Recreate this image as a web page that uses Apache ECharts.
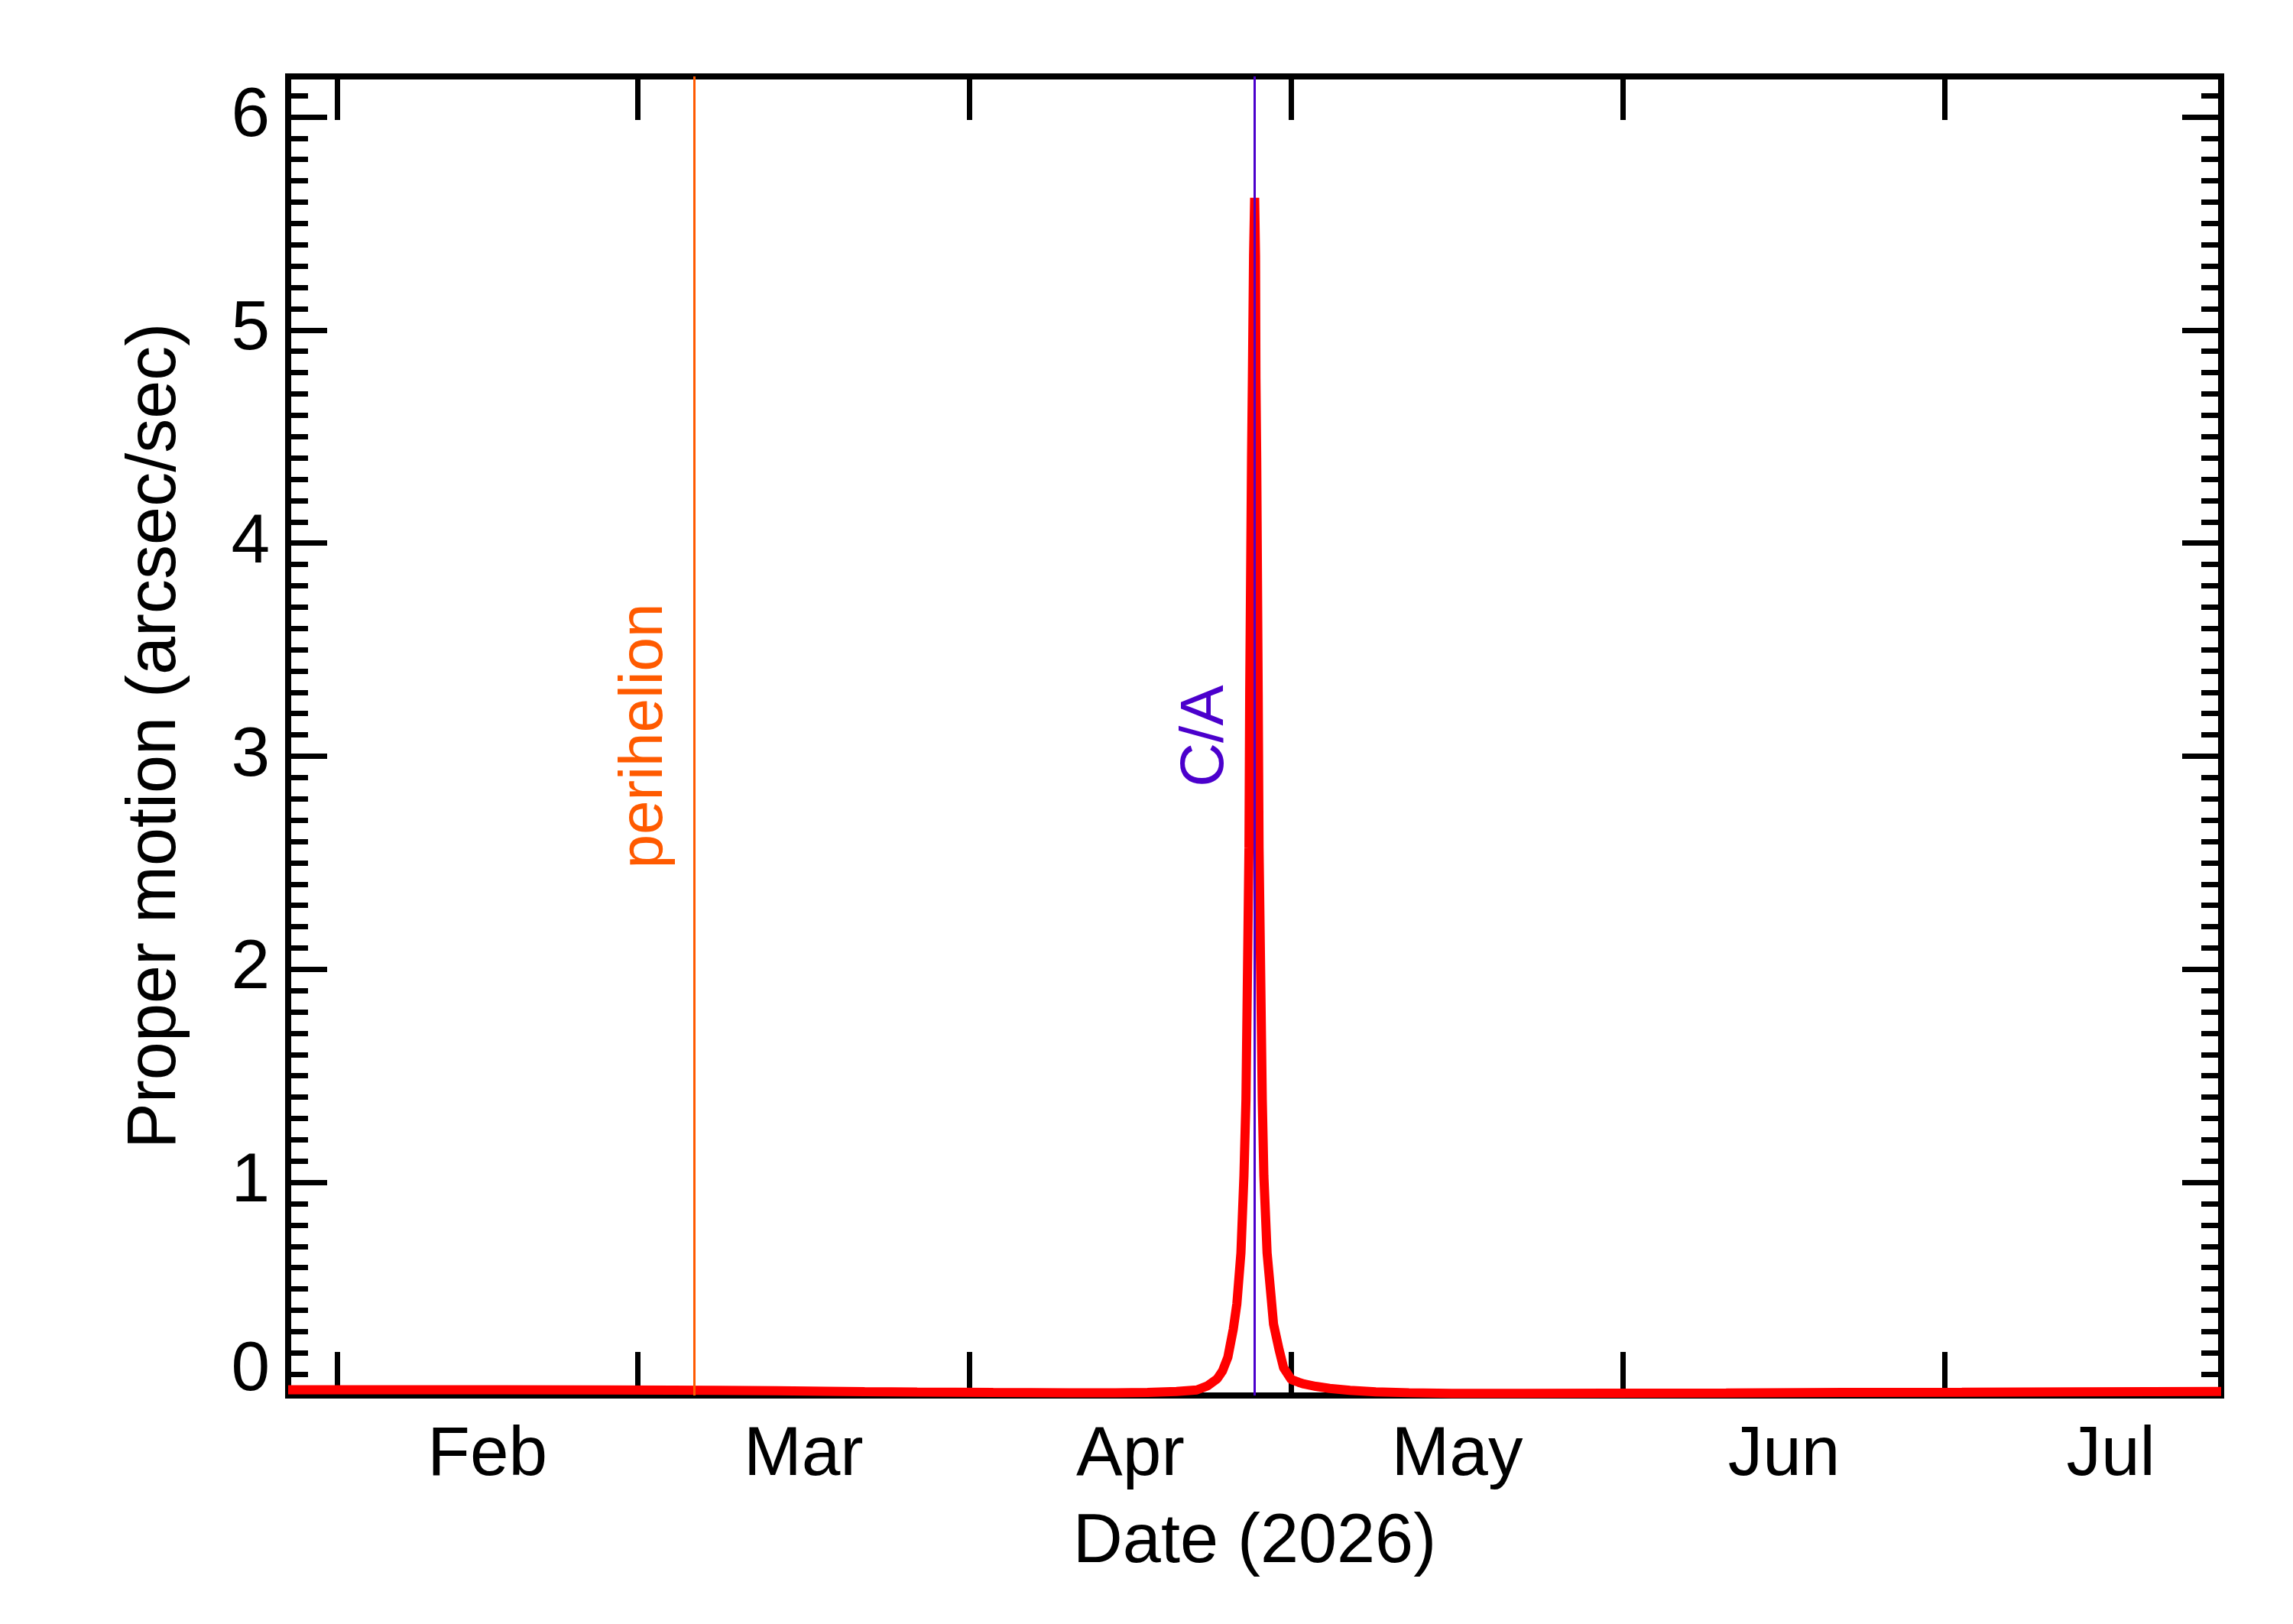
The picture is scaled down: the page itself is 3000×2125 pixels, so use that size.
<!DOCTYPE html>
<html>
<head>
<meta charset="utf-8">
<title>Proper motion 2026</title>
<script src="https://cdn.jsdelivr.net/npm/echarts@6/dist/echarts.min.js"></script>
<style>
html,body{margin:0;padding:0;background:#fff;}
#chart{width:3000px;height:2125px;}
</style>
</head>
<body>
<div id="chart"></div>
<script>
// x values are days since 2026-01-01 00:00 UT
var days = [26.4, 36.6, 46.6, 56.6, 62.2, 66.6, 72.0, 76.6, 80.2, 85.1, 92.2, 99.3, 103.6, 106.6,
	109.3, 111.2, 112.2, 113.1, 113.6, 114.1, 114.6, 114.94, 115.32, 115.6, 115.79, 116.07, 116.14,
	116.31, 116.39, 116.5, 116.6, 116.68, 116.72, 116.79, 116.93, 117.01, 117.31, 117.46, 117.76,
	118.15, 118.36, 118.88, 119.3, 120.02, 120.7, 121.2, 122.3, 123.6, 125.5, 127.9, 131.0, 135.0,
	141.6, 149.6, 160.6, 171.6, 182.6, 193.6, 206.8];
var motion = [0.027, 0.027, 0.027, 0.026, 0.025, 0.024, 0.022, 0.020, 0.018, 0.016, 0.014, 0.013, 0.013, 0.014,
	0.019, 0.026, 0.045, 0.078, 0.115, 0.18, 0.31, 0.43, 0.67, 1.03, 1.39, 2.57, 3.3,
	4.4, 4.77, 5.35, 5.62, 5.35, 4.77, 4.4, 3.3, 2.57, 1.39, 1.03, 0.67,
	0.454, 0.335, 0.215, 0.13, 0.075, 0.062, 0.054, 0.043, 0.033, 0.024, 0.017, 0.013, 0.010,
	0.010, 0.011, 0.012, 0.014, 0.015, 0.017, 0.019];

var monthNames = ['Feb', 'Mar', 'Apr', 'May', 'Jun', 'Jul'];
var monthStarts = [31, 59, 90, 120, 151, 181];
var monthMids = [45, 74.5, 105, 135.5, 166, 196.5];
var yMajor = [0, 1, 2, 3, 4, 5, 6];
var periDay = 64.3;
var caDay = 116.6;

var xMin = 26.4, xMax = 206.8;
var yMin = 0, yMax = 6.19;

var yMinor = [];
for (var i = 1; i <= 61; i++) {
	if (i % 10 != 0) yMinor.push(i / 10);
}

var seriesData = [];
for (var k = 0; k < days.length; k++) {
	seriesData.push([days[k], motion[k]]);
}

var font = 'Liberation Sans, Arial, Helvetica, sans-serif';

function yAxisDef(pos, ticks, len, withLabels) {
	var ax = {
		type: 'value',
		position: pos,
		min: yMin,
		max: yMax,
		axisLine: {show: false},
		splitLine: {show: false},
		axisTick: {
			show: true,
			inside: true,
			length: len,
			customValues: ticks,
			lineStyle: {color: '#000', width: 7}
		},
		axisLabel: {show: false}
	};
	if (withLabels) {
		ax.axisLabel = {
			show: true,
			customValues: yMajor,
			margin: 24,
			color: '#000',
			fontFamily: font,
			fontSize: 91,
			formatter: function (v) {
				// bottom label sits above the axis, as in the original
				return v == 0 ? '{z|0}' : String(v);
			},
			rich: {
				z: {fontFamily: font, fontSize: 91, color: '#000', padding: [0, 0, 65, 0]}
			}
		};
		ax.name = 'Proper motion (arcsec/sec)';
		ax.nameLocation = 'middle';
		ax.nameRotate = 90;
		ax.nameGap = 128;
		ax.nameTextStyle = {color: '#000', fontFamily: font, fontSize: 90};
	}
	return ax;
}

function xAxisDef(pos, withLabels) {
	var ax = {
		type: 'value',
		position: pos,
		min: xMin,
		max: xMax,
		axisLine: {show: false, onZero: false},
		splitLine: {show: false},
		axisTick: {
			show: true,
			inside: true,
			length: 57,
			customValues: monthStarts,
			lineStyle: {color: '#000', width: 7}
		},
		axisLabel: {show: false}
	};
	if (withLabels) {
		ax.axisLabel = {
			show: true,
			customValues: monthMids,
			margin: 33,
			color: '#000',
			fontFamily: font,
			fontSize: 91,
			formatter: function (v) {
				return monthNames[monthMids.indexOf(v)];
			}
		};
		ax.name = 'Date (2026)';
		ax.nameLocation = 'middle';
		ax.nameGap = 148;
		ax.nameTextStyle = {color: '#000', fontFamily: font, fontSize: 90};
	}
	return ax;
}

var chart = echarts.init(document.getElementById('chart'));
var option = {
	animation: false,
	backgroundColor: '#fff',
	grid: {
		left: 377,
		right: 94,
		top: 100,
		bottom: 299,
		show: true,
		borderColor: '#000',
		borderWidth: 8,
		backgroundColor: 'transparent'
	},
	xAxis: [xAxisDef('bottom', true), xAxisDef('top', false)],
	yAxis: [
		yAxisDef('left', yMajor, 51, true),
		yAxisDef('left', yMinor, 26, false),
		yAxisDef('right', yMajor, 51, false),
		yAxisDef('right', yMinor, 26, false)
	],
	series: [{
		type: 'line',
		xAxisIndex: 0,
		yAxisIndex: 0,
		data: seriesData,
		showSymbol: false,
		symbol: 'none',
		z: 3,
		lineStyle: {color: '#ff0000', width: 12, join: 'bevel'}
	}, {
		type: 'line',
		xAxisIndex: 0,
		yAxisIndex: 0,
		data: [],
		z: 5,
		markLine: {
			silent: true,
			symbol: 'none',
			animation: false,
			label: {
				show: true,
				position: 'insideMiddleTop',
				distance: 24,
				fontFamily: font,
				fontSize: 80,
				formatter: '{b}'
			},
			data: [{
				name: 'perihelion',
				xAxis: periDay,
				lineStyle: {color: '#ff5a00', width: 3, type: 'solid'},
				label: {color: '#ff5a00'}
			}, {
				name: 'C/A',
				xAxis: caDay,
				lineStyle: {color: '#4b00cc', width: 3, type: 'solid'},
				label: {color: '#4b00cc'}
			}]
		}
	}]
};
chart.setOption(option);
</script>
</body>
</html>
